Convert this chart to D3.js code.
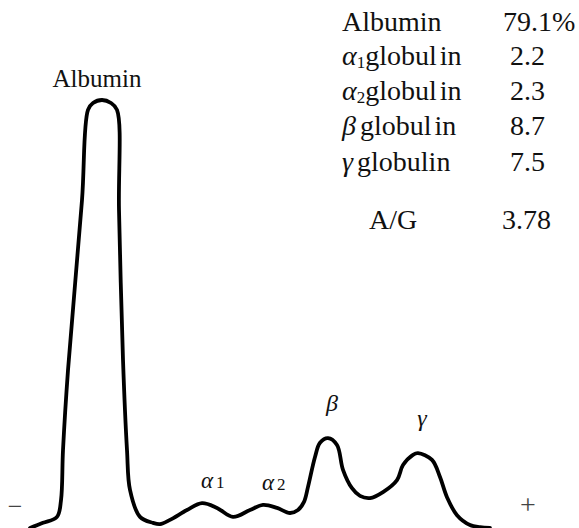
<!DOCTYPE html>
<html>
<head>
<meta charset="utf-8">
<script src="https://cdn.jsdelivr.net/npm/d3@7"></script>
<style>
  body { margin: 0; background: #fff; }
  svg text { font-family: 'Liberation Serif' !important; }
</style>
</head>
<body>
<script>
// densitometer trace, mobility (0-100) vs optical density (0-100)
const mobility = [0, 2.6, 5.4, 6.2, 6.6, 7.6, 10.4, 11.6, 12.6, 14.4, 16.2, 17.4, 17.8, 18.6, 19.4, 20,
  22, 24.6, 26, 28, 31.4, 34.4, 37.4, 40.6, 44, 46.6, 49.4, 52, 53.6, 54.8, 55.6, 57, 58, 59.6,
  61.4, 62.6, 64.4, 66, 68, 70.6, 73.4, 74.6, 76.6, 77.6, 80.4, 82, 83.4, 85.4, 88, 90, 92];
const density = [0, 1.2, 2.6, 6.5, 18.2, 36.9, 76.6, 97.7, 99.3, 100, 99.3, 97.7, 74.3, 39.3, 18.2, 8.9,
  2.6, 1.2, 0.9, 1.9, 4.2, 5.8, 4.7, 2.6, 4.2, 5.4, 4.7, 3.5, 4.2, 6.1, 9.6, 16.6, 19.9, 21.0,
  19.4, 13.6, 9.3, 7.5, 7.0, 8.4, 11.2, 14.7, 17.1, 17.5, 15.9, 11.9, 7.2, 3.0, 0.7, 0.2, 0];

const fractionNames = ['Albumin', 'α1', 'α2', 'β', 'γ'];
const fractionValues = ['79.1%', '2.2', '2.3', '8.7', '7.5'];
const agRatio = '3.78';
// peak label positions on the trace (mobility, density)
const peakMobility = [13.6, 34.4, 46.6, 59.6, 77.6];
const peakDensity = [100, 5.8, 5.4, 21.0, 17.5];

const width = 579, height = 528;

const svg = d3.select('body')
  .append('svg')
  .attr('width', width)
  .attr('height', height)
  .attr('font-family', 'Liberation Serif');

const x = d3.scaleLinear().domain([0, 100]).range([30, 530]);
const y = d3.scaleLinear().domain([0, 100]).range([528, 100]);

const line = d3.line()
  .x(d => x(d[0]))
  .y(d => y(d[1]))
  .curve(d3.curveCatmullRom.alpha(0.5));

svg.append('path')
  .datum(d3.zip(mobility, density))
  .attr('d', line)
  .attr('fill', 'none')
  .attr('stroke', '#000')
  .attr('stroke-width', 3.8)
  .attr('stroke-linejoin', 'round')
  .attr('stroke-linecap', 'round');

const txt = (xp, yp, size) => svg.append('text')
  .attr('x', xp).attr('y', yp)
  .attr('fill', '#111')
  .style('font-family', "'Liberation Serif'")
  .style('font-size', size + 'px');

// peak labels
txt(x(peakMobility[0]) - 1, y(peakDensity[0]) - 13, 25)
  .attr('text-anchor', 'middle')
  .text(fractionNames[0]);

[1, 2].forEach(i => {
  const t = txt(x(peakMobility[i]) - 1, y(peakDensity[i]) - 15, 23);
  t.append('tspan').style('font-style', 'italic').text('α');
  t.append('tspan').attr('dx', 3).style('font-size', '17px').text(fractionNames[i].slice(1));
});

[3, 4].forEach(i => {
  txt(x(peakMobility[i]) + 4, y(peakDensity[i]) - 27, 24)
    .attr('text-anchor', 'middle')
    .style('font-style', 'italic')
    .text(fractionNames[i]);
});

// electrode signs
txt(15, 515, 26).attr('text-anchor', 'middle').attr('fill', '#444').text('−');
txt(528, 514, 28).attr('text-anchor', 'middle').attr('fill', '#444').text('+');

// result table
const rowY = [31, 65, 100, 135, 171];
const valueX = [503, 510, 510, 510, 510];

fractionNames.forEach((name, i) => {
  const t = txt(342, rowY[i], 28);
  if (i === 0) {
    t.text(name);
  } else if (i < 3) {
    t.append('tspan').style('font-style', 'italic').text('α');
    t.append('tspan').attr('dy', 3).style('font-size', '17px').text(name.slice(1));
    t.append('tspan').attr('dy', -3).text('globul');
    t.append('tspan').attr('dx', 3).text('in');
  } else {
    t.append('tspan').style('font-style', 'italic').text(name);
    t.append('tspan').attr('dx', 4).text(i === 3 ? 'globul' : 'globulin');
    if (i === 3) t.append('tspan').attr('dx', 3).text('in');
  }
  txt(valueX[i], rowY[i], 28).text(fractionValues[i]);
});

txt(369, 229, 28).text('A/G');
txt(502, 229, 28).text(agRatio);
</script>
</body>
</html>
